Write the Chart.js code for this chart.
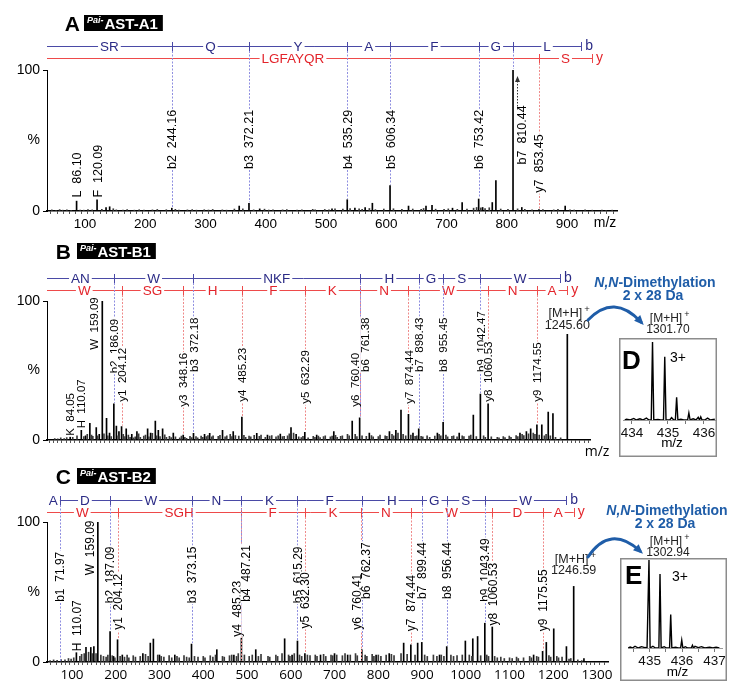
<!DOCTYPE html>
<html>
<head>
<meta charset="utf-8">
<script src="https://cdn.jsdelivr.net/npm/chart.js@4.4.1/dist/chart.umd.min.js"></script>
<style>
  body { margin: 0; background: #fff; width: 750px; height: 699px; overflow: hidden; position: relative; }
  canvas { position: absolute; left: 0; }
</style>
</head>
<body>
<canvas id="cA" width="750" height="236" style="top:0px"></canvas>
<canvas id="cB" width="750" height="229" style="top:236px"></canvas>
<canvas id="cC" width="750" height="234" style="top:465px"></canvas>
<canvas id="cD" width="98" height="119" style="left:619px;top:338px"></canvas>
<canvas id="cE" width="107" height="123" style="left:620px;top:558px"></canvas>
<script>
const FONT = "'Liberation Sans', Arial, sans-serif";

// ---------- A : Pai-AST-A1 ----------
const xTicksA = [100, 200, 300, 400, 500, 600, 700, 800, 900];
const peaksA = [[86.10,7],[120.09,8],[135,2.5],[141,3],[244.16,2],[356,3.5],[372.21,5.5],[390,1.5],
  [510,1.5],[535.29,8],[548,2],[565,2.5],[577,5.5],[606.34,18],[637,3.5],[666,3.5],[676,4],[710,2],
  [726,6],[753.42,8.5],[760,2.5],[776,6],[782,21.5],[810.44,100],[825,2.5],[853.45,1],[897,3.5]];
const noiseA = [[45,.8],[52,.5],[58,1],[63,.6],[70,.9],[77,.5],[92,.7],[98,.6],[105,1],[112,.8],[128,1.2],
  [147,1.6],[152,.8],[163,.7],[170,1],[182,.6],[190,.9],[198,.7],[212,.8],[220,1.1],[235,.9],[250,1.2],
  [256,.7],[270,.8],[278,1],[285,.6],[298,.9],[305,.7],[312,1.1],[328,.8],[335,.6],[348,1.4],[362,1.5],
  [380,.8],[398,1.3],[405,.7],[412,.9],[428,.8],[435,1],[452,.7],[460,.9],[478,1.2],[482,.8],[498,1.1],
  [505,.9],[515,1.6],[528,1.3],[540,1.8],[555,1.5],[560,1.2],[572,1.8],[582,1],[596,1.4],[612,1.6],
  [626,1.1],[644,1.4],[658,1.2],[662,1.8],[682,1.3],[696,1.1],[703,1.5],[718,1.2],[734,1.4],[745,2],
  [750,2.5],[757,2.2],[764,1.8],[771,2.3],[790,1.4],[802,1.2],[818,1.5],[830,1.2],[842,.9],[860,1],
  [878,.8],[885,1.2],[905,.9],[912,.7],[930,.8],[942,.6],[958,.7],[965,.5],[975,.6]];
const bMzA = [244.16, 372.21, 535.29, 606.34, 753.42, 810.44, 923.5];
const bResA = ['SR', 'Q', 'Y', 'A', 'F', 'G', 'L'];
const yMzA = [853.45, 941.5];
const yResA = ['LGFAYQR', 'S'];
const ionTextA = ['L  86.10', 'F  120.09', 'b2  244.16', 'b3  372.21', 'b4  535.29', 'b5  606.34', 'b6  753.42', 'b7  810.44', 'y7  853.45'];
const ionMzA = [86.10, 120.09, 244.16, 372.21, 535.29, 606.34, 753.42, 810.44, 853.45];
const ionTypeA = ['', '', 'b', 'b', 'b', 'b', 'b', 'b', 'y'];

// ---------- B : Pai-AST-B1 ----------
const xTicksB = [100, 200, 300, 400, 500, 600, 700, 800, 900, 1000, 1100, 1200];
const peaksB = [[84.05,2.5],[110.07,7],[120,3],[130,12],[145,9],[152,4],[159.09,100],[169,15.6],[176,5],
  [186.09,26],[192,10],[198,6],[204.12,9.6],[215,8],[228,4],[240,6],[265,8],[272,5],[283,13.7],[290,7],
  [300,8],[325,5],[348.16,3.6],[372.18,4.8],[398,4],[410,4.8],[440,7],[465,6],[485.23,16.5],[520,4.8],
  [545,3.6],[575,4.2],[600,9],[612,4],[632.29,5.5],[660,3.6],[700,6],[743,13.7],[760.40,16],[783,5],
  [830,6],[845,7],[857,21.6],[874.44,18.5],[885,5],[898.43,8],[942,5],[955.45,12.7],[993,5],[1026,18],
  [1042.47,33],[1060.53,26],[1135,5],[1150,6],[1160,8],[1174.55,11],[1186,11],[1201,20],[1212,19],[1245.60,76]];
const noiseB = [[48,1],[55,.8],[62,1.5],[70,1],[76,1.8],[90,2],[100,3],[116,2.5],[124,4],[134,3.5],[137,2.6],
  [148,3],[163,4.5],[172,3],[180,2.5],[196,3],[208,4],[212,2.5],[220,3.5],[224,2],[232,1.5],[236,2.2],
  [244,4.5],[248,2],[256,2.8],[260,3.5],[268,2.2],[276,4.8],[286,3],[294,2.5],[305,3.8],[309,2],[316,2.6],
  [320,1.8],[330,2.2],[340,1.5],[344,2.8],[352,2],[356,1.2],[364,2.6],[368,1.8],[378,2.4],[382,1.6],
  [390,2.8],[394,2],[402,2.4],[406,3.2],[415,2.2],[418,3],[430,2.6],[434,3.4],[446,2.2],[450,3],[458,4],
  [462,2.4],[470,3.2],[478,2.8],[490,3.4],[494,2],[502,2.8],[506,2.2],[514,3.4],[526,2.6],[530,3.5],
  [540,2],[550,2.8],[555,3.2],[565,2.2],[570,3],[580,2.5],[584,2.6],[592,3],[596,4.5],[606,5],[618,2.2],
  [624,1.8],[628,2.6],[640,1.6],[652,2.6],[656,2],[664,2.8],[668,1.8],[676,2.4],[680,3],[692,2.2],
  [696,2.8],[704,3.4],[708,2],[716,2.6],[720,3],[732,4],[736,3],[750,4],[754,2.5],[766,3],[776,2.6],
  [788,3.2],[792,2.2],[804,2.4],[808,3.5],[820,3],[824,2.6],[836,4],[840,3],[850,5],[862,4],[868,3],
  [880,3.5],[890,2.6],[894,3],[904,2.6],[908,2.2],[918,3],[924,2],[936,2.8],[946,4],[950,3],[962,3.6],
  [966,2.2],[976,2.6],[980,3],[988,2.2],[1000,3],[1004,2.4],[1016,2.8],[1020,3.5],[1033,2.4],[1050,3],
  [1054,2],[1068,2.2],[1082,2],[1086,1.6],[1096,2.4],[1100,1.8],[1110,2.8],[1114,2],[1126,3.2],[1130,2.4],
  [1140,4],[1144,3.2],[1155,4.5],[1166,5],[1170,4],[1180,3.5],[1192,3],[1196,4],[1206,3],[1218,2],[1230,1.5]];
const bMzB = [186.09, 372.18, 761.38, 898.43, 955.45, 1042.47, 1228.6];
const bResB = ['AN', 'W', 'NKF', 'H', 'G', 'S', 'W'];
const yMzB = [204.12, 348.16, 485.23, 632.29, 760.40, 874.44, 1060.53, 1174.55, 1245.6];
const yResB = ['W', 'SG', 'H', 'F', 'K', 'N', 'W', 'N', 'A'];
const ionTextB = ['K  84.05', 'H  110.07', 'W  159.09', 'b2  186.09', 'y1  204.12', 'y3  348.16', 'b3  372.18',
  'y4  485.23', 'y5  632.29', 'y6  760.40', 'b6  761.38', 'y7  874.44', 'b7  898.43', 'b8  955.45',
  'b9  1042.47', 'y8  1060.53', 'y9  1174.55'];
const ionMzB = [84.05, 110.07, 159.09, 186.09, 204.12, 348.16, 372.18, 485.23, 632.29, 760.40, 761.38,
  874.44, 898.43, 955.45, 1042.47, 1060.53, 1174.55];
const ionTypeB = ['', '', '', 'b', 'y', 'y', 'b', 'y', 'y', 'y', 'b', 'y', 'b', 'b', 'b', 'y', 'y'];
const precursorB = [1245.60, 1301.70];
const isoMzD = [434.57, 434.91, 435.24, 435.58, 435.91];
const isoIntD = [100, 81, 29, 9, 4];
const isoNoiseD = [[433.8,0],[433.85,1],[433.95,0],[434.05,2],[434.12,0],[434.22,1.5],[434.3,0],[434.4,2.5],
  [434.47,0],[434.72,.8],[434.8,0],[435.05,0],[435.1,3],[435.16,0],[435.36,1],[435.44,0],[435.7,1.5],
  [435.78,0],[435.84,3.5],[436.02,0],[436.1,2.5],[436.18,0],[436.3,1]];
const xTicksD = [434, 435, 436];

// ---------- C : Pai-AST-B2 ----------
const xTicksC = [100, 200, 300, 400, 500, 600, 700, 800, 900, 1000, 1100, 1200, 1300];
const peaksC = [[110.07,7.6],[132,10.4],[143,10.4],[150,11],[159.09,100],[187.09,21.8],[195,4],[204.12,15.9],
  [215,5],[262,6],[279,13.5],[286,16.4],[300,5],[335,5],[373.15,12.8],[431,8.8],[470,5],[487.21,18.2],
  [520,8.8],[586,16.6],[603,5],[615.29,15],[632.30,6],[668,5],[700,6],[730,5],[762.37,8.8],[795,5],
  [825,6],[858,13.5],[874.44,12.3],[890,13.5],[899.44,14],[940,5],[956.44,11],[999,15],[1016,16.6],
  [1027,18.2],[1043.49,27.7],[1060.53,25.4],[1155,5],[1175.55,7.6],[1184,14],[1201,23.7],[1230,11],
  [1246.59,54],[1270,2.5]];
const noiseC = [[50,1],[58,1.5],[66,1.2],[75,1.8],[84,1.5],[92,2.5],[98,2],[104,3],[118,4],[122,5.5],[128,6],
  [138,7],[146,6],[155,6],[166,5],[172,4],[178,3.5],[182,5],[192,4.5],[198,3],[210,4],[220,3.5],[226,5],
  [230,3],[240,4.5],[245,3.5],[256,4],[268,5.5],[274,4],[296,5],[304,4],[310,3.5],[322,4.5],[328,3],
  [340,4],[345,3],[356,4.5],[362,3.5],[368,3],[380,4],[388,3.5],[400,4],[404,3],[416,4.5],[422,3.5],
  [428,5],[444,4],[448,3.5],[460,4.5],[465,5],[476,4],[480,6],[494,5],[505,4],[512,5],[526,4],[532,5.5],
  [548,4],[552,3.5],[566,5],[570,4],[580,6],[595,5],[598,4],[608,6],[620,5],[625,4],[638,5],[644,4.5],
  [656,5],[660,4],[675,5.5],[680,4],[692,5],[696,4.5],[705,5],[718,4.5],[724,6],[736,5],[748,6],[752,4.5],
  [770,5],[774,4],[786,5.5],[790,4],[800,5],[806,4],[818,5],[830,5.5],[836,4.5],[852,6],[866,5.5],
  [884,5],[906,5],[912,4],[926,5],[934,4],[944,5],[950,4],[966,5],[972,4],[980,4.5],[992,5],[1008,5],
  [1014,4],[1034,4.5],[1048,5],[1052,4],[1066,4],[1072,3],[1080,3.5],[1088,2.5],[1100,3],[1106,2.5],
  [1116,3.5],[1120,2.5],[1132,3],[1146,4],[1150,3],[1162,4],[1166,3.5],[1190,4.5],[1194,3.5],[1208,4],
  [1212,3],[1220,3.5],[1236,2],[1240,2.5],[1256,1.5],[1265,1]];
const bMzC = [71.97, 187.09, 373.15, 487.21, 615.29, 762.37, 899.44, 956.44, 1043.49, 1229.6];
const bResC = ['A', 'D', 'W', 'N', 'K', 'F', 'H', 'G', 'S', 'W'];
const yMzC = [204.12, 485.23, 632.30, 760.41, 874.44, 1060.53, 1175.55, 1246.6];
const yResC = ['W', 'SGH', 'F', 'K', 'N', 'W', 'D', 'A'];
const ionTextC = ['b1  71.97', 'H  110.07', 'W  159.09', 'b2  187.09', 'y1  204.12', 'b3  373.15', 'y4  485.23',
  'b4  487.21', 'b5  615.29', 'y5  632.30', 'y6  760.41', 'b6  762.37', 'y7  874.44', 'b7  899.44',
  'b8  956.44', 'b9  1043.49', 'y8  1060.53', 'y9  1175.55'];
const ionMzC = [71.97, 110.07, 159.09, 187.09, 204.12, 373.15, 485.23, 487.21, 615.29, 632.30, 760.41, 762.37,
  874.44, 899.44, 956.44, 1043.49, 1060.53, 1175.55];
const ionTypeC = ['b', '', '', 'b', 'y', 'b', 'y', 'b', 'b', 'y', 'y', 'b', 'y', 'b', 'b', 'b', 'y', 'y'];
const precursorC = [1246.59, 1302.94];
const isoMzE = [434.98, 435.32, 435.65, 435.99, 436.32];
const isoIntE = [100, 84, 38, 9, 3];
const isoNoiseE = [[434.34,0],[434.4,1],[434.47,0],[434.55,2],[434.65,0],[434.75,1.5],[434.85,.5],[434.92,0],
  [435.1,2],[435.18,0],[435.45,1.5],[435.52,0],[435.8,1],[435.88,0],[436.1,1.5],[436.18,0],[436.4,2],
  [436.5,.5],[436.6,1.5],[436.7,0],[436.85,1],[436.95,0],[437.05,1],[437.15,0]];
const xTicksE = [435, 436, 437];

// ---------- layout (pixels; label heights in % of the y axis) ----------
const layA = { canvasTop: 0, areaTop: 70, xAxisH: 25, right: 617, xmin: 37, xmax: 983, tickStep: 10,
  blueY: 46, redY: 58, letter: 'A', letterX: 80, tagX: 84, tagY: 15, tag: 'AST-A1', labelSize: 12.5,
  tickFont: FONT, mz: [605, 223],
  levels: [9.5, 9.5, 29.8, 29.8, 29.8, 29.8, 29.8, 33, 13], shifts: [0, 0, 0, 0, 0, 0, 0, 9, 0] };
const layB = { canvasTop: 236, areaTop: 65, xAxisH: 25, right: 590.6, xmin: 29.9, xmax: 1300, tickStep: 10,
  blueY: 278, redY: 290, letter: 'B', letterX: 71, tagX: 77, tagY: 243, tag: 'AST-B1', labelSize: 11.5,
  tickFont: "'Open Sans', " + FONT, mz: [597, 452],
  levels: [3, 8.4, 65, 48, 27.6, 24, 49, 27.6, 26, 24, 49, 26, 49, 49, 49, 27.6, 27.6],
  shifts: [0, 0, -8, 0, 0, 0, 0, 0, 0, -5, 5, 0, 0, 0, 0, 0, 0],
  mhLevel: 82.7, dime: [655, 283], inset: [668, 320], arrow: [[588, 320], [614, 293], [641, 322]] };
const layC = { canvasTop: 465, areaTop: 57, xAxisH: 37, right: 608, xmin: 42.9, xmax: 1325, tickStep: 10,
  blueY: 500, redY: 512, letter: 'C', letterX: 71, tagX: 77, tagY: 468, tag: 'AST-B2', labelSize: 12,
  tickFont: "'Open Sans', " + FONT, mz: null,
  levels: [43, 7.6, 62, 42, 23, 42, 18, 43, 42, 24, 23, 45, 22, 45, 45, 43, 26, 22],
  shifts: [0, 0, -8, 0, 0, 0, -4, 4, 0, 0, -4, 4, 0, 0, 0, 0, 0, 0],
  mhLevel: 65, dime: [667, 511], inset: [668, 543], arrow: [[588, 557], [610, 524], [640, 551]] };
const layD = { letter: 'D', min: 433.75, max: 436.306, padL: 4, padR: 2, padT: 4, xAxisH: 37,
  letterXY: [11, 24], chargeXY: [59, 20], mzY: 105 };
const layE = { letter: 'E', min: 434.333, max: 437.242, padL: 8, padR: 3, padT: 2, xAxisH: 33,
  letterXY: [13, 19], chargeXY: [60, 19], mzY: 114 };

const BLUE_T = '#2b2b86', BLUE_L = '#4a4aa6', BLUE_C = '#8f8fe0';
const RED_T = '#e3242b', RED_L = '#ee4a4a', RED_C = '#ef8a8a';
const DIME = '#1f5da8';

function peakHeight(peaks, mz) {
  let best = 0, dist = 1.6;
  peaks.forEach(([m, h]) => { if (Math.abs(m - mz) < dist) { dist = Math.abs(m - mz); best = h; } });
  return best;
}

function drawTag(ctx, L) {
  const y0 = L.tagY - L.canvasTop, h = 16;
  ctx.fillStyle = '#000';
  ctx.font = 'bold 21px ' + FONT;
  ctx.textAlign = 'right'; ctx.textBaseline = 'alphabetic';
  ctx.fillText(L.letter, L.letterX, y0 + h);
  ctx.font = 'bold 15px ' + FONT; const w2 = ctx.measureText(L.tag).width;
  ctx.font = 'italic bold 9px ' + FONT; const w1 = ctx.measureText('Pai-').width;
  ctx.fillRect(L.tagX, y0, w1 + w2 + 9, h);
  ctx.fillStyle = '#fff'; ctx.textAlign = 'left';
  ctx.fillText('Pai-', L.tagX + 3, y0 + 8);
  ctx.font = 'bold 15px ' + FONT;
  ctx.fillText(L.tag, L.tagX + 4 + w1, y0 + h - 2);
}

function drawLadder(ctx, xs, mzs, res, y, txt, line, endLabel) {
  const x0 = xs.left;
  const px = mzs.map(m => xs.getPixelForValue(m));
  const xEnd = px[px.length - 1];
  ctx.strokeStyle = line; ctx.lineWidth = 1;
  ctx.beginPath(); ctx.moveTo(x0, y + 0.5); ctx.lineTo(xEnd, y + 0.5); ctx.stroke();
  px.forEach(p => { ctx.beginPath(); ctx.moveTo(Math.round(p) + 0.5, y - 4); ctx.lineTo(Math.round(p) + 0.5, y + 5); ctx.stroke(); });
  ctx.font = '13.5px ' + FONT; ctx.textAlign = 'center'; ctx.textBaseline = 'middle';
  res.forEach((r, i) => {
    const a = i === 0 ? x0 : px[i - 1];
    const c = (a + px[i]) / 2;
    const w = ctx.measureText(r).width;
    ctx.fillStyle = '#fff'; ctx.fillRect(c - w / 2 - 2, y - 6, w + 4, 12);
    ctx.fillStyle = txt; ctx.fillText(r, c, y + 1);
  });
  ctx.font = '14px ' + FONT; ctx.textAlign = 'left'; ctx.fillStyle = txt;
  ctx.fillText(endLabel, xEnd + 4, y);
}

function drawIons(ctx, xs, ys, L, d) {
  // dotted connectors from the ladders down to the fragment peaks
  ctx.setLineDash([2, 1.5]);
  d.ionMz.forEach((m, i) => {
    const t = d.ionType[i];
    if (!t) return;
    const px = Math.round(xs.getPixelForValue(m)) + 0.5;
    const top = ys.getPixelForValue(peakHeight(d.peaks, m));
    ctx.strokeStyle = t === 'b' ? BLUE_C : RED_C; ctx.lineWidth = 1;
    ctx.beginPath(); ctx.moveTo(px, (t === 'b' ? L.blueY : L.redY) - L.canvasTop + 5); ctx.lineTo(px, top - 1); ctx.stroke();
  });
  ctx.setLineDash([]);
  const fs = L.labelSize;
  ctx.font = fs + 'px ' + FONT;
  d.ionText.forEach((t, i) => {
    const px = xs.getPixelForValue(d.ionMz[i]) + L.shifts[i];
    const py = ys.getPixelForValue(L.levels[i]);
    const w = ctx.measureText(t).width;
    ctx.save(); ctx.translate(px, py); ctx.rotate(-Math.PI / 2);
    ctx.fillStyle = '#fff'; ctx.fillRect(-1, -fs * 0.42, w + 2, fs * 0.84);
    ctx.fillStyle = '#000'; ctx.textAlign = 'left'; ctx.textBaseline = 'middle';
    ctx.fillText(t, 0, 1);
    ctx.restore();
  });
}

function drawMH(ctx, cx, cy, value, size) {
  ctx.fillStyle = '#222';
  ctx.font = size + 'px ' + FONT;
  const w = ctx.measureText('[M+H]').width;
  ctx.textAlign = 'left'; ctx.textBaseline = 'middle';
  ctx.fillText('[M+H]', cx - w / 2 - 2, cy - size + 1);
  ctx.font = (size - 3) + 'px ' + FONT;
  ctx.fillText('+', cx + w / 2, cy - size - 3);
  ctx.font = size + 'px ' + FONT; ctx.textAlign = 'center';
  ctx.fillText(value, cx, cy);
}

function drawDime(ctx, L, insetValue) {
  const off = L.canvasTop;
  const [cx, cy] = L.dime;
  ctx.fillStyle = DIME; ctx.textBaseline = 'middle'; ctx.textAlign = 'left';
  ctx.font = 'italic bold 14px ' + FONT; const w1 = ctx.measureText('N,N').width;
  ctx.font = 'bold 14px ' + FONT; const w2 = ctx.measureText('-Dimethylation').width;
  const x0 = cx - (w1 + w2) / 2;
  ctx.font = 'italic bold 14px ' + FONT; ctx.fillText('N,N', x0, cy - off);
  ctx.font = 'bold 14px ' + FONT; ctx.fillText('-Dimethylation', x0 + w1, cy - off);
  ctx.textAlign = 'center'; ctx.fillText('2 x 28 Da', cx - 2, cy + 13 - off);
  drawMH(ctx, L.inset[0], L.inset[1] + 10 - off, insetValue, 12);
  const [s, c, e] = L.arrow;
  ctx.strokeStyle = DIME; ctx.lineWidth = 3; ctx.lineCap = 'round';
  ctx.beginPath(); ctx.moveTo(s[0], s[1] - off); ctx.quadraticCurveTo(c[0], c[1] - off, e[0], e[1] - off); ctx.stroke();
  const ang = Math.atan2(e[1] - c[1], e[0] - c[0]);
  ctx.fillStyle = DIME; ctx.beginPath();
  ctx.moveTo(e[0] + 4 * Math.cos(ang), e[1] - off + 4 * Math.sin(ang));
  ctx.lineTo(e[0] + 7 * Math.cos(ang + 2.5), e[1] - off + 7 * Math.sin(ang + 2.5));
  ctx.lineTo(e[0] + 7 * Math.cos(ang - 2.5), e[1] - off + 7 * Math.sin(ang - 2.5));
  ctx.closePath(); ctx.fill();
}

function annot(d, L) {
  return {
    id: 'annot' + L.letter,
    afterDraw(chart) {
      const { ctx, scales: { x, y } } = chart;
      ctx.save();
      drawTag(ctx, L);
      drawLadder(ctx, x, d.bMz, d.bRes, L.blueY - L.canvasTop, BLUE_T, BLUE_L, 'b');
      drawLadder(ctx, x, d.yMz, d.yRes, L.redY - L.canvasTop, RED_T, RED_L, 'y');
      drawIons(ctx, x, y, L, d);
      if (L.mz) {
        ctx.fillStyle = '#000'; ctx.font = '14px ' + L.tickFont; ctx.textAlign = 'center'; ctx.textBaseline = 'middle';
        ctx.fillText('m/z', L.mz[0], L.mz[1] - L.canvasTop);
      }
      if (d.precursor) {
        drawMH(ctx, x.getPixelForValue(d.precursor[0]), y.getPixelForValue(L.mhLevel), d.precursor[0].toFixed(2), 12.5);
        drawDime(ctx, L, d.precursor[1].toFixed(2));
      }
      if (L.letter === 'A') {
        // dotted arrow beside the base peak
        const px = Math.round(x.getPixelForValue(810.44)) + 4.5;
        const y1 = y.getPixelForValue(72), y2 = y.getPixelForValue(95);
        ctx.strokeStyle = '#333'; ctx.lineWidth = 1; ctx.setLineDash([1.5, 1.5]);
        ctx.beginPath(); ctx.moveTo(px, y1); ctx.lineTo(px, y2 + 3); ctx.stroke();
        ctx.setLineDash([]); ctx.fillStyle = '#333';
        ctx.beginPath(); ctx.moveTo(px, y2 - 1); ctx.lineTo(px - 2.5, y2 + 5); ctx.lineTo(px + 2.5, y2 + 5); ctx.closePath(); ctx.fill();
      }
      ctx.restore();
    }
  };
}

function spectrum(id, d, L) {
  const canvas = document.getElementById(id);
  return new Chart(canvas, {
    type: 'bar',
    data: {
      datasets: [
        { data: d.noise.map(([x, y]) => ({ x, y })), backgroundColor: '#3a3a3a', barThickness: 1, grouped: false },
        { data: d.peaks.map(([x, y]) => ({ x, y })), backgroundColor: '#000', barThickness: 1, grouped: false }
      ]
    },
    options: {
      responsive: false, animation: false, devicePixelRatio: 1,
      layout: { padding: { top: L.areaTop, right: 750 - L.right, left: 0, bottom: 0 } },
      plugins: { legend: { display: false }, tooltip: { enabled: false } },
      scales: {
        x: {
          type: 'linear', min: L.xmin, max: L.xmax, offset: false,
          grid: { display: true, drawOnChartArea: false, tickLength: 3, tickColor: '#555', tickWidth: 1 },
          border: { color: '#000', width: 1.5 },
          ticks: {
            stepSize: L.tickStep, autoSkip: false, maxRotation: 0, minRotation: 0, padding: 2, color: '#000',
            font: { family: L.tickFont, size: 13.5 },
            callback: v => {
              const r = Math.round(v);
              return Math.abs(v - r) < 1e-6 && d.xTicks.includes(r) ? String(r) : '';
            }
          },
          afterFit: s => { s.height = L.xAxisH; }
        },
        y: {
          min: 0, max: 100,
          grid: { display: true, drawOnChartArea: false, tickLength: 4,
            tickColor: c => (c.tick && c.tick.value === 50 ? 'rgba(0,0,0,0)' : '#000') },
          border: { color: '#000', width: 1 },
          ticks: { stepSize: 50, padding: 3, color: '#000', font: { family: FONT, size: 14 },
            callback: v => (v === 100 ? '100' : v === 50 ? '%' : v === 0 ? '0' : '') },
          afterFit: s => { s.width = 47; }
        }
      }
    },
    plugins: [annot(d, L)]
  });
}

function isotopes(id, mz, inten, noise, ticks, L) {
  const pts = noise.map(([x, y]) => ({ x, y }));
  mz.forEach((m, i) => { pts.push({ x: m - 0.035, y: 0 }, { x: m, y: inten[i] }, { x: m + 0.035, y: 0 }); });
  pts.sort((a, b) => a.x - b.x);
  // major ticks at the labelled integers, minor ticks half way between
  const tickVals = [];
  ticks.forEach(t => { tickVals.push(t - 0.5, t); });
  tickVals.push(ticks[ticks.length - 1] + 0.5);
  const canvas = document.getElementById(id);
  return new Chart(canvas, {
    type: 'line',
    data: { datasets: [{ data: pts, borderColor: '#000', borderWidth: 1.4, pointRadius: 0, tension: 0 }] },
    options: {
      responsive: false, animation: false, devicePixelRatio: 1,
      layout: { padding: { top: L.padT, left: L.padL, right: L.padR, bottom: 0 } },
      plugins: { legend: { display: false }, tooltip: { enabled: false } },
      scales: {
        x: {
          type: 'linear', min: L.min, max: L.max,
          grid: { display: true, drawOnChartArea: false, tickLength: 4, tickColor: '#777' },
          border: { color: '#999', width: 1 },
          afterBuildTicks: s => { s.ticks = tickVals.filter(v => v >= L.min && v <= L.max).map(v => ({ value: v })); },
          ticks: { autoSkip: false, maxRotation: 0, padding: 1, color: '#111',
            font: { family: FONT, size: 13.5 },
            callback: v => (ticks.includes(v) ? String(v) : '') },
          afterFit: s => { s.height = L.xAxisH; }
        },
        y: { display: false, min: 0, max: 100 }
      }
    },
    plugins: [{
      id: 'frame' + L.letter,
      afterDraw(chart) {
        const { ctx, width, height } = chart;
        ctx.save();
        ctx.strokeStyle = '#8c8c8c'; ctx.lineWidth = 1.5;
        ctx.strokeRect(0.75, 0.75, width - 1.5, height - 1.5);
        ctx.fillStyle = '#000'; ctx.textBaseline = 'middle'; ctx.textAlign = 'left';
        ctx.font = 'bold 26px ' + FONT; ctx.fillText(L.letter, L.letterXY[0] - 8, L.letterXY[1]);
        ctx.font = '14px ' + FONT; ctx.fillText('3+', L.chargeXY[0] - 8, L.chargeXY[1]);
        ctx.textAlign = 'center'; ctx.font = '13.5px ' + FONT;
        ctx.fillText('m/z', width / 2 + 4, L.mzY);
        ctx.restore();
      }
    }]
  });
}

spectrum('cA', { peaks: peaksA, noise: noiseA, xTicks: xTicksA, bMz: bMzA, bRes: bResA, yMz: yMzA, yRes: yResA,
  ionText: ionTextA, ionMz: ionMzA, ionType: ionTypeA }, layA);
spectrum('cB', { peaks: peaksB, noise: noiseB, xTicks: xTicksB, bMz: bMzB, bRes: bResB, yMz: yMzB, yRes: yResB,
  ionText: ionTextB, ionMz: ionMzB, ionType: ionTypeB, precursor: precursorB }, layB);
spectrum('cC', { peaks: peaksC, noise: noiseC, xTicks: xTicksC, bMz: bMzC, bRes: bResC, yMz: yMzC, yRes: yResC,
  ionText: ionTextC, ionMz: ionMzC, ionType: ionTypeC, precursor: precursorC }, layC);
isotopes('cD', isoMzD, isoIntD, isoNoiseD, xTicksD, layD);
isotopes('cE', isoMzE, isoIntE, isoNoiseE, xTicksE, layE);
</script>
</body>
</html>
